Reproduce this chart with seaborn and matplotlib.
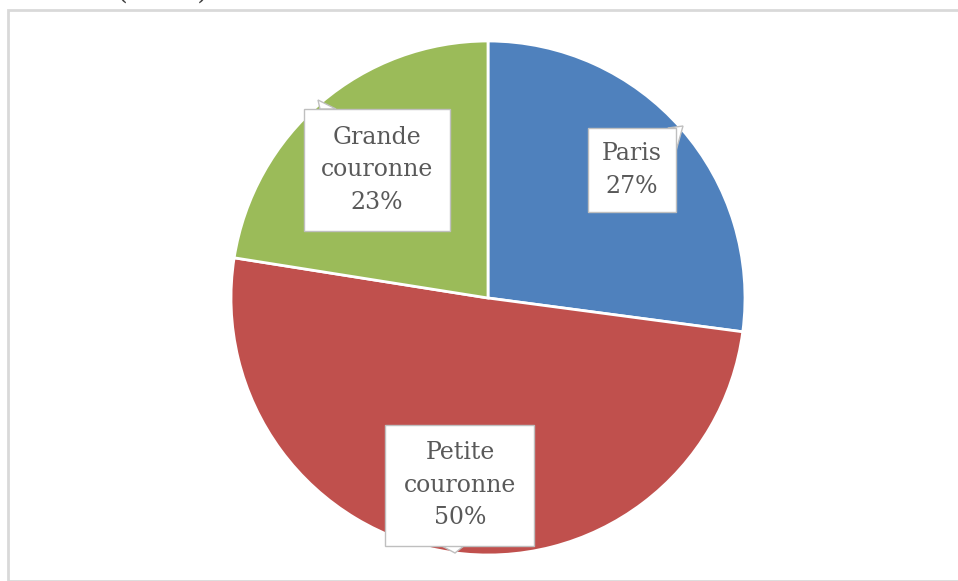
import matplotlib.pyplot as plt
import seaborn as sns
from matplotlib.patches import Rectangle, Polygon

# data
zones = ["Paris", "Petite\ncouronne", "Grande\ncouronne"]
shares = [27.1, 50.4, 22.5]          # slice sizes as measured on the picture
pct_labels = [27, 50, 23]            # percentages printed in the callouts
colors = ["#4F81BD", "#C0504D", "#9BBB59"]

sns.set_style("white")
plt.rcParams['font.family'] = ['DejaVu Serif', 'Liberation Serif']

fig = plt.figure(figsize=(9.58, 5.81), dpi=100)
ax = fig.add_axes([0, 0, 1, 1])

# outer frame of the chart area
ax.add_patch(Rectangle((8, 0), 955, 571, fill=False, edgecolor='#D9D9D9', lw=2))
# cut-off caption at the top edge
ax.text(163, 590, "(en %)", ha='center', va='center', fontsize=20, color='#404040')

wedges, _ = ax.pie(shares, colors=colors, startangle=90, counterclock=False,
                   center=(488, 283), radius=257,
                   wedgeprops=dict(edgecolor='white', linewidth=2))
ax.set_xlim(0, 958)
ax.set_ylim(0, 581)
ax.set_aspect('equal')
ax.axis('off')

# callout labels: (box center x, y, width, height, tail polygon)
callouts = [
    (632, 411, 88, 84, [(668, 453), (683, 455), (676, 430)]),
    (460, 96, 149, 121, [(440, 36), (455, 28), (465, 36)]),
    (377, 411, 146, 122, [(320, 472), (318, 481), (336, 472)]),
]
for (cx, cy, w, h, tail), name, val in zip(callouts, zones, pct_labels):
    ax.add_patch(Polygon(tail, closed=True, facecolor='white', edgecolor='#BFBFBF', lw=1, zorder=3))
    ax.add_patch(Rectangle((cx - w / 2, cy - h / 2), w, h, facecolor='white',
                           edgecolor='#BFBFBF', lw=1, zorder=4))
    ax.text(cx, cy, f"{name}\n{val}%", ha='center', va='center', fontsize=17,
            color='#595959', linespacing=1.55, zorder=5)

fig.savefig("out.png", dpi=100, facecolor='white')
